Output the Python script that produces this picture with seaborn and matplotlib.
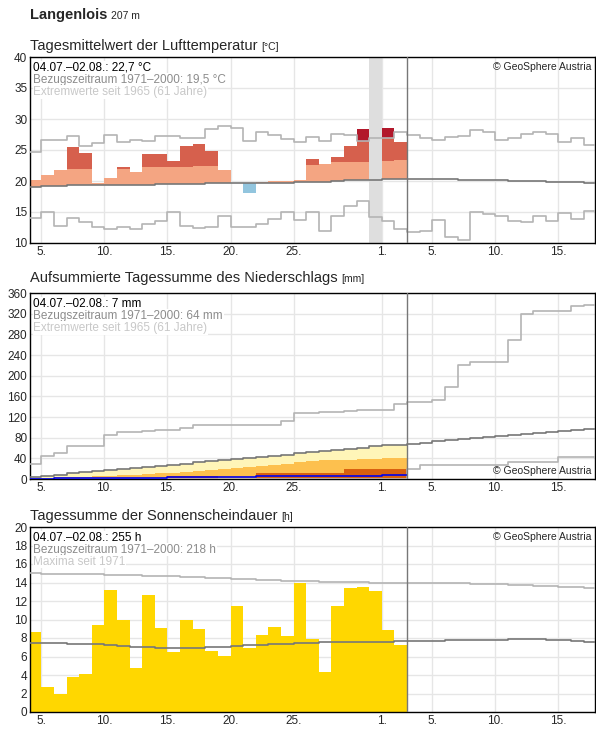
import numpy as np
import seaborn as sns
import matplotlib.pyplot as plt

# days: July = day of month, Aug 1 = 32
days = np.arange(4, 49)          # 45 days shown on the axis
obs_days = np.arange(4, 34)      # observed until 02.08.
tick_pos = [5, 10, 15, 20, 25, 32, 36, 41, 46]
tick_lab = ['5.', '10.', '15.', '20.', '25.', '1.', '5.', '10.', '15.']

# --- temperature
temp = [20.1, 20.9, 21.7, 25.5, 24.5, 19.7, 20.5, 22.3, 21.4, 24.3, 24.4, 23.3, 25.6, 25.9, 24.8,
        21.8, 19.6, 18.0, 19.8, 20.0, 20.0, 20.2, 23.5, 22.8, 23.8, 25.6, 28.4, np.nan, 28.5, 26.3]
temp_light_top = [22, 22, 22, 22.0, 22.0, 22, 22, 22.0, 22, 22.2, 22.2, 22.2, 22.3, 22.4, 22.5,
                  22.5, 22.5, 22.5, 22.5, 22.6, 22.6, 22.6, 22.6, 22.8, 23.0, 23.0, 23.0, 23.0, 23.2, 23.4]
temp_mean = [19.0, 19.2, 19.2, 19.3, 19.3, 19.3, 19.3, 19.3, 19.4, 19.4, 19.5, 19.5, 19.5, 19.5, 19.6,
             19.6, 19.6, 19.6, 19.6, 19.7, 19.7, 19.8, 19.9, 19.9, 20.0, 20.1, 20.1, 20.2, 20.3, 20.3,
             20.3, 20.3, 20.3, 20.3, 20.2, 20.2, 20.2, 20.1, 20.0, 20.0, 20.0, 19.9, 19.8, 19.8, 19.7]
temp_max = [24.7, 26.6, 26.6, 27.3, 25.6, 26.2, 27.4, 26.3, 26.6, 26.4, 27.3, 27.3, 27.0, 27.0, 28.4,
            28.8, 28.5, 26.5, 27.9, 27.4, 26.7, 26.3, 27.1, 26.5, 27.6, 27.4, 26.5, 26.9, 26.9, 27.9,
            27.4, 27.0, 26.6, 27.1, 27.3, 28.3, 27.9, 26.6, 26.9, 27.6, 27.9, 27.6, 26.3, 26.9, 25.8]
temp_min = [14.0, 15.0, 12.8, 14.0, 13.4, 12.5, 12.2, 12.5, 12.2, 13.1, 13.6, 15.0, 12.8, 12.4, 12.6,
            14.3, 12.5, 12.5, 13.1, 13.9, 15.0, 13.7, 15.0, 12.0, 14.3, 15.9, 16.8, 14.2, 13.5, 12.2,
            11.7, 12.0, 13.7, 10.9, 10.5, 15.0, 14.7, 14.3, 13.6, 13.4, 14.3, 13.5, 14.9, 13.9, 15.1]
missing_day = 31

# --- precipitation (cumulative)
prec_actual = [0.5, 0.5, 1.5, 1.5, 1.5, 1.5, 1.5, 1.5, 1.5, 1.5, 1.5, 3, 3, 3, 3,
               3, 3, 3, 5, 5, 5, 5, 5, 5, 5, 5, 5, 5, 7, 7]
prec_dark = [0, 0, 0, 0, 0, 0, 0, 0, 0, 0, 0, 5, 5, 5, 5,
             0, 0, 0, 12, 12, 12, 12, 12, 12, 12, 20, 20, 20, 20, 20]
prec_orange = [2, 2, 3, 3, 4, 5, 6, 7, 8, 9, 11, 12, 14, 16, 18,
               20, 22, 24, 26, 28, 30, 32, 34, 36, 36, 37, 38, 39, 40, 41]
prec_mean = [4, 6, 8, 11, 13, 15, 17, 19, 21, 24, 26, 28, 30, 32, 34,
             37, 39, 41, 43, 45, 47, 50, 52, 54, 56, 58, 60, 63, 65, 66,
             68, 70, 73, 75, 77, 79, 81, 83, 85, 87, 89, 91, 93, 95, 97]
prec_max = [30, 45, 50, 63, 63, 63, 85, 91, 91, 93, 95, 95, 99, 105, 105,
            105, 105, 105, 105, 105, 113, 127, 128, 130, 130, 132, 134, 134, 134, 146,
            150, 150, 152, 178, 220, 227, 227, 227, 270, 320, 325, 325, 325, 335, 337]
prec_min = [0] * 30 + [20, 28, 28, 28, 28, 28, 28, 28, 33, 33, 33, 33, 42, 42, 42]

# --- sunshine
sun = [8.7, 2.7, 2.0, 3.8, 4.1, 9.4, 13.2, 10.0, 4.8, 12.7, 9.1, 6.5, 10.0, 9.0, 6.6,
       6.1, 11.5, 6.9, 8.3, 9.2, 8.2, 13.9, 7.9, 4.3, 11.5, 13.4, 13.5, 13.1, 8.9, 7.2]
sun_mean = [7.5, 7.5, 7.5, 7.4, 7.4, 7.3, 7.2, 7.1, 7.0, 7.0, 6.9, 6.9, 6.9, 6.9, 7.0,
            7.0, 7.1, 7.2, 7.2, 7.3, 7.4, 7.5, 7.5, 7.6, 7.6, 7.6, 7.6, 7.6, 7.6, 7.7,
            7.7, 7.7, 7.7, 7.8, 7.8, 7.8, 7.8, 7.8, 7.9, 7.9, 7.9, 7.8, 7.8, 7.7, 7.6]
sun_max = [15.0, 14.9, 14.9, 14.9, 14.9, 14.9, 14.8, 14.8, 14.8, 14.7, 14.7, 14.7, 14.6, 14.6, 14.5,
           14.5, 14.4, 14.4, 14.3, 14.3, 14.2, 14.2, 14.2, 14.1, 14.1, 14.1, 14.1, 14.0, 14.0, 14.0,
           14.0, 14.0, 13.9, 13.9, 13.9, 13.8, 13.8, 13.8, 13.7, 13.7, 13.6, 13.6, 13.5, 13.5, 13.4]

sns.set_style('white')
plt.rcParams['font.family'] = ['Liberation Sans', 'DejaVu Sans']

W, H = 596, 729
fig = plt.figure(figsize=(W / 100, H / 100), dpi=100)
renderer = fig.canvas.get_renderer()


def make_ax(top, bottom):
    return fig.add_axes([30 / W, 1 - bottom / H, 565 / W, (bottom - top) / H])


def title_with_unit(y, title, unit, size=10.5, bold=False):
    t = fig.text(30 / W, 1 - y / H, title, fontsize=size, va='baseline',
                 fontweight='bold' if bold else 'normal')
    bb = t.get_window_extent(renderer)
    fig.text((bb.x1 + 4) / W, 1 - y / H, unit, fontsize=7.5, va='baseline')


def step_line(ax, vals, color, lw=1.0):
    x = np.append(days, 49)
    y = np.append(vals, vals[-1])
    ax.plot(x, y, drawstyle='steps-post', color=color, lw=lw, zorder=4)


def style(ax, ymin, ymax, ystep):
    ax.set_xlim(4.1, 48.9)
    ax.set_ylim(ymin, ymax)
    ax.set_yticks(np.arange(ymin, ymax + 0.01, ystep))
    ax.set_xticks(tick_pos)
    ax.set_xticklabels(tick_lab)
    ax.tick_params(labelsize=8.5, length=0, pad=2)
    ax.grid(True, color='#e6e6e6', lw=1)
    ax.set_axisbelow(True)
    for s in ax.spines.values():
        s.set_color('black')
        s.set_linewidth(1)
    ax.axvline(34, color='#777777', lw=1, zorder=5)


def info(ax, lines, top_right=True):
    cols = ['black', '#8c8c8c', '#c8c8c8']
    for i, (t, c) in enumerate(zip(lines, cols)):
        ax.text(0.006, 0.975 - i * 0.065, t, transform=ax.transAxes, fontsize=8.5, color=c,
                va='top', ha='left', zorder=6,
                bbox=dict(facecolor='white', edgecolor='none', pad=0.5))
    y = 0.975 if top_right else 0.015
    ax.text(0.994, y, '© GeoSphere Austria', transform=ax.transAxes, fontsize=7.5,
            va='top' if top_right else 'bottom', ha='right', zorder=6)


title_with_unit(19, 'Langenlois', '207 m', size=10.5, bold=True)
title_with_unit(50, 'Tagesmittelwert der Lufttemperatur', '[°C]')
title_with_unit(282, 'Aufsummierte Tagessumme des Niederschlags', '[mm]')
title_with_unit(520, 'Tagessumme der Sonnenscheindauer', '[h]')

# ---- temperature panel
ax1 = make_ax(57, 243)
ax1.axvspan(missing_day, missing_day + 1, color='#dedede', zorder=1, lw=0)
for i, d in enumerate(obs_days):
    t = temp[i]
    if np.isnan(t):
        continue
    m = temp_mean[i]
    lt = temp_light_top[i]
    mx = temp_max[i]
    if t >= m:
        ax1.bar(d, min(t, lt) - m, bottom=m, width=1, align='edge', color='#f4a582', lw=0, zorder=2)
        if t > lt:
            ax1.bar(d, min(t, mx) - lt, bottom=lt, width=1, align='edge', color='#d6604d', lw=0, zorder=2)
        if t > mx:
            ax1.bar(d, t - mx, bottom=mx, width=1, align='edge', color='#b2182b', lw=0, zorder=2)
    else:
        ax1.bar(d, m - t, bottom=t, width=1, align='edge', color='#92c5de', lw=0, zorder=2)
step_line(ax1, temp_max, '#b4b4b4', 1.2)
step_line(ax1, temp_min, '#b4b4b4', 1.2)
step_line(ax1, temp_mean, '#777777', 1.2)
style(ax1, 10, 40, 5)
info(ax1, ['04.07.–02.08.: 22,7 °C', 'Bezugszeitraum 1971–2000: 19,5 °C',
           'Extremwerte seit 1965 (61 Jahre)'])

# ---- precipitation panel
ax2 = make_ax(293, 479)
mean_obs = prec_mean[:len(obs_days)]
ax2.bar(obs_days, mean_obs, width=1, align='edge', color='#fff5b8', lw=0, zorder=2)
ax2.bar(obs_days, prec_orange, width=1, align='edge', color='#fdc04e', lw=0, zorder=2)
ax2.bar(obs_days, prec_dark, width=1, align='edge', color='#d9600e', lw=0, zorder=2)
xo = np.append(obs_days, 34)
ax2.plot(xo, np.append(prec_actual, prec_actual[-1]), drawstyle='steps-post', color='#0000ee',
         lw=1.2, zorder=5)
step_line(ax2, prec_max, '#b4b4b4', 1.2)
step_line(ax2, prec_min, '#b4b4b4', 1.2)
step_line(ax2, prec_mean, '#777777', 1.2)
style(ax2, 0, 360, 40)
info(ax2, ['04.07.–02.08.: 7 mm', 'Bezugszeitraum 1971–2000: 64 mm',
           'Extremwerte seit 1965 (61 Jahre)'], top_right=False)

# ---- sunshine panel
ax3 = make_ax(527, 712)
sns.barplot(x=obs_days, y=sun, ax=ax3, native_scale=True, width=1, color='#ffd700',
            saturation=1, lw=0, zorder=2)
for p in ax3.patches:
    p.set_x(p.get_x() + 0.5)
step_line(ax3, sun_max, '#b4b4b4', 1.2)
step_line(ax3, sun_mean, '#777777', 1.2)
style(ax3, 0, 20, 2)
ax3.set_xlabel('')
ax3.set_ylabel('')
info(ax3, ['04.07.–02.08.: 255 h', 'Bezugszeitraum 1971–2000: 218 h', 'Maxima seit 1971'])

fig.savefig('out.png', dpi=100)
